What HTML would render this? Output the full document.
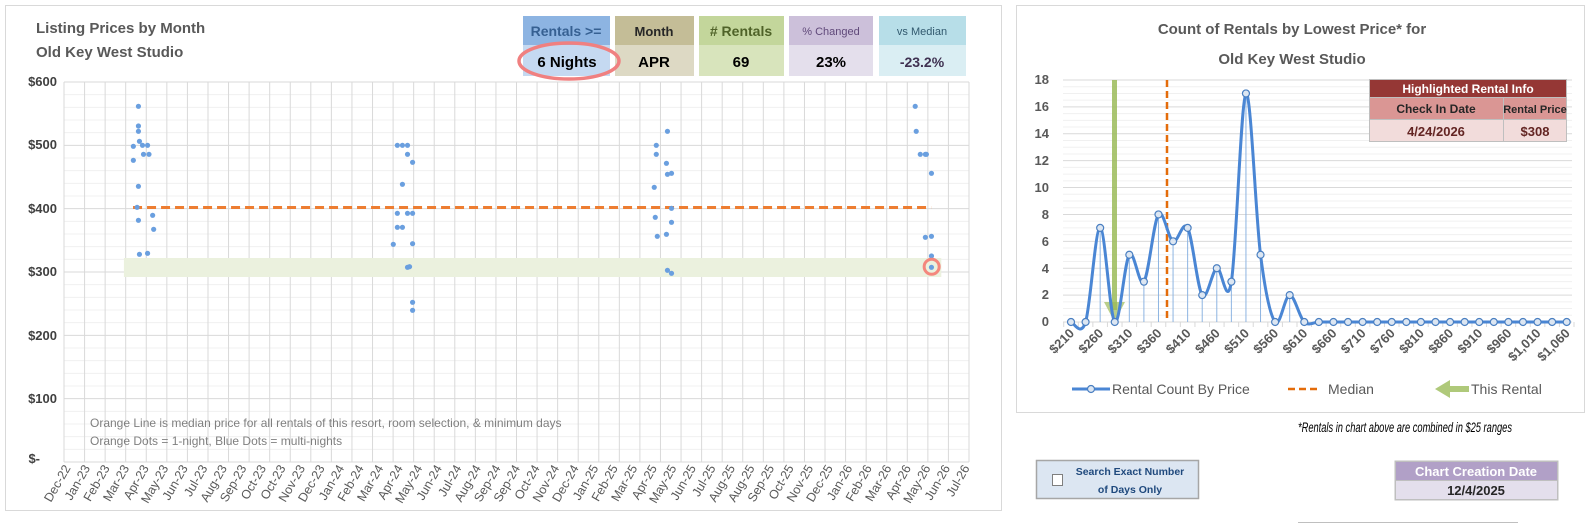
<!DOCTYPE html>
<html><head><meta charset="utf-8"><style>
body{margin:0;background:#fff;width:1587px;height:524px;overflow:hidden;font-family:"Liberation Sans",sans-serif;}
svg{position:absolute;left:0;top:0}
</style></head><body>
<svg width="1587" height="524" viewBox="0 0 1587 524" font-family="Liberation Sans, sans-serif">
<!-- panels -->
<rect x="5.5" y="5.5" width="996" height="505" fill="#fff" stroke="#d9d9d9"/>
<rect x="1016.5" y="5.5" width="568" height="407" fill="#fff" stroke="#d9d9d9"/>
<line x1="1298" y1="522.5" x2="1518" y2="522.5" stroke="#bfbfbf"/>

<!-- left title -->
<text x="36" y="33" font-size="15" font-weight="bold" fill="#595959">Listing Prices by Month</text>
<text x="36" y="57" font-size="15" font-weight="bold" fill="#595959">Old Key West Studio</text>

<!-- header boxes -->
<rect x="523" y="16" width="87" height="29" fill="#8db4e2"/>
<rect x="523" y="45" width="87" height="31" fill="#c5d9f1"/>
<rect x="615" y="16" width="79" height="29" fill="#c4bd97"/>
<rect x="615" y="45" width="79" height="31" fill="#ddd9c4"/>
<rect x="699" y="16" width="85" height="29" fill="#c3d69b"/>
<rect x="699" y="45" width="85" height="31" fill="#d8e4bc"/>
<rect x="789" y="16" width="84" height="29" fill="#ccc0da"/>
<rect x="789" y="45" width="84" height="31" fill="#e4dfec"/>
<rect x="879" y="16" width="87" height="29" fill="#b7dee8"/>
<rect x="879" y="45" width="87" height="31" fill="#daeef3"/>
<g font-weight="bold" text-anchor="middle">
<text x="566" y="36" font-size="14" fill="#366092">Rentals &gt;=</text>
<text x="654" y="36" font-size="13" fill="#262626">Month</text>
<text x="741" y="36" font-size="14" fill="#4f6228">#&#160;Rentals</text>
<text x="831" y="35" font-size="11" fill="#60497a" font-weight="normal">% Changed</text>
<text x="922" y="35" font-size="11" fill="#31596e" font-weight="normal">vs Median</text>
<text x="567" y="67" font-size="15" fill="#000">6 Nights</text>
<text x="654" y="67" font-size="15" fill="#000">APR</text>
<text x="741" y="67" font-size="15" fill="#000">69</text>
<text x="831" y="67" font-size="15" fill="#000">23%</text>
<text x="922" y="67" font-size="14" fill="#3f3151">-23.2%</text>
</g>
<ellipse cx="569" cy="61" rx="50" ry="18" fill="none" stroke="#f08080" stroke-width="3.5"/>

<!-- left plot -->
<g id="lgrid"></g>
<g id="lover"></g>
<g id="ldots" fill="#6a9fdf"></g>
<g font-size="13" font-weight="bold" fill="#404040" text-anchor="end">
<text x="57" y="86">$600</text><text x="57" y="149">$500</text><text x="57" y="213">$400</text>
<text x="57" y="276">$300</text><text x="57" y="340">$200</text><text x="57" y="403">$100</text>
<text x="40" y="463">$-</text>
</g>
<g font-size="12" fill="#7f7f7f">
<text x="90" y="427">Orange Line is median price for all rentals of this resort, room selection, &amp; minimum days</text>
<text x="90" y="445">Orange Dots = 1-night, Blue Dots = multi-nights</text>
</g>
<g id="lxl" font-size="12.5" fill="#595959" text-anchor="end">
<text>Dec-22</text><text>Jan-23</text><text>Feb-23</text><text>Mar-23</text><text>Apr-23</text><text>May-23</text><text>Jun-23</text><text>Jul-23</text><text>Aug-23</text><text>Sep-23</text><text>Oct-23</text><text>Oct-23</text><text>Nov-23</text><text>Dec-23</text><text>Jan-24</text><text>Feb-24</text><text>Mar-24</text><text>Apr-24</text><text>May-24</text><text>Jun-24</text><text>Jul-24</text><text>Aug-24</text><text>Sep-24</text><text>Sep-24</text><text>Oct-24</text><text>Nov-24</text><text>Dec-24</text><text>Jan-25</text><text>Feb-25</text><text>Mar-25</text><text>Apr-25</text><text>May-25</text><text>Jun-25</text><text>Jul-25</text><text>Aug-25</text><text>Aug-25</text><text>Sep-25</text><text>Oct-25</text><text>Nov-25</text><text>Dec-25</text><text>Jan-26</text><text>Feb-26</text><text>Mar-26</text><text>Apr-26</text><text>May-26</text><text>Jun-26</text><text>Jul-26</text>
</g>

<!-- right chart -->
<text x="1292" y="34" font-size="15" font-weight="bold" fill="#595959" text-anchor="middle">Count of Rentals by Lowest Price* for</text>
<text x="1292" y="64" font-size="15" font-weight="bold" fill="#595959" text-anchor="middle">Old Key West Studio</text>
<g id="rgrid"></g>
<g font-size="13" font-weight="bold" fill="#595959" text-anchor="end">
<text x="1049" y="84">18</text><text x="1049" y="111">16</text><text x="1049" y="138">14</text><text x="1049" y="165">12</text><text x="1049" y="192">10</text><text x="1049" y="219">8</text><text x="1049" y="246">6</text><text x="1049" y="273">4</text><text x="1049" y="299">2</text><text x="1049" y="326">0</text>
</g>
<rect x="1112" y="80" width="5" height="230" fill="#9bbb59" opacity="0.85"/>
<polygon points="1104,302 1125,302 1114.5,322" fill="#9bbb59" opacity="0.7"/>
<line x1="1167" y1="80" x2="1167" y2="322" stroke="#e46c0a" stroke-width="2.5" stroke-dasharray="7,4"/>
<g id="rser"></g>
<g id="rxl" font-size="13" font-weight="bold" fill="#595959" text-anchor="end">
<text>$210</text><text>$260</text><text>$310</text><text>$360</text><text>$410</text><text>$460</text><text>$510</text><text>$560</text><text>$610</text><text>$660</text><text>$710</text><text>$760</text><text>$810</text><text>$860</text><text>$910</text><text>$960</text><text>$1,010</text><text>$1,060</text>
</g>
<!-- highlighted table -->
<rect x="1369" y="79" width="198" height="63" fill="#bfbfbf"/>
<rect x="1370" y="80" width="196" height="17" fill="#953735"/>
<rect x="1370" y="98" width="133" height="21" fill="#da9694"/>
<rect x="1504" y="98" width="62" height="21" fill="#da9694"/>
<rect x="1370" y="120" width="133" height="21" fill="#f2dcdb"/>
<rect x="1504" y="120" width="62" height="21" fill="#f2dcdb"/>
<g font-weight="bold" text-anchor="middle">
<text x="1468" y="93" font-size="12" fill="#fff">Highlighted Rental Info</text>
<text x="1436" y="113" font-size="12" fill="#262626">Check In Date</text>
<text x="1535" y="113" font-size="11" fill="#262626">Rental Price</text>
<text x="1436" y="136" font-size="13" fill="#632523">4/24/2026</text>
<text x="1535" y="136" font-size="13" fill="#632523">$308</text>
</g>
<!-- legend -->
<line x1="1072" y1="389" x2="1110" y2="389" stroke="#4a86d4" stroke-width="3"/>
<circle cx="1091" cy="389" r="3.5" fill="#dce6f2" stroke="#4a7fc1" stroke-width="1.2"/>
<text x="1112" y="394" font-size="14" fill="#595959">Rental Count By Price</text>
<line x1="1288" y1="389" x2="1318" y2="389" stroke="#e46c0a" stroke-width="2.5" stroke-dasharray="7,4"/>
<text x="1328" y="394" font-size="14" fill="#595959">Median</text>
<polygon points="1435,389 1450,380 1450,386 1469,386 1469,392 1450,392 1450,398" fill="#9bbb59" opacity="0.8"/>
<text x="1471" y="394" font-size="14" fill="#595959">This Rental</text>

<text x="1405" y="432" font-size="13.5" font-style="italic" fill="#000" text-anchor="middle" textLength="214" lengthAdjust="spacingAndGlyphs">*Rentals in chart above are combined in $25 ranges</text>

<!-- checkbox -->
<rect x="1036.5" y="460.5" width="162" height="38" fill="#dce6f2" stroke="#a6a6a6" stroke-width="1.5"/>
<rect x="1052.5" y="474.5" width="10" height="11" fill="#fff" stroke="#7f7f7f"/>
<text x="1130" y="475" font-size="10.5" font-weight="bold" fill="#1f497d" text-anchor="middle">Search Exact Number</text>
<text x="1130" y="493" font-size="10.5" font-weight="bold" fill="#1f497d" text-anchor="middle">of Days Only</text>
<!-- creation date -->
<rect x="1394.5" y="460.5" width="164" height="40" fill="#bfbfbf"/>
<rect x="1396" y="462" width="161" height="18" fill="#b1a0c7"/>
<rect x="1396" y="481" width="161" height="18" fill="#e4dfec"/>
<text x="1476" y="476" font-size="13" font-weight="bold" fill="#fff" text-anchor="middle">Chart Creation Date</text>
<text x="1476" y="495" font-size="13" font-weight="bold" fill="#262626" text-anchor="middle">12/4/2025</text>
</svg>
<script>
var NS="http://www.w3.org/2000/svg";
function el(p,t,a){var e=document.createElementNS(NS,t);for(var k in a)e.setAttribute(k,a[k]);p.appendChild(e);return e;}
function fx(x){return 64+(x-64)*1.0154;}
var g=document.getElementById('lgrid');
var L=64,R=969,T=82,B=462,py=(B-T)/600;
for(var v=0;v<=600;v+=20){var y=B-v*py;el(g,'line',{x1:L,x2:R,y1:y,y2:y,stroke:v%100==0?'#d9d9d9':'#f0f0f0','stroke-width':1});}
var sp=(R-L)/44;
for(var i=0;i<=44;i++){var x=L+i*sp;el(g,'line',{x1:x,x2:x,y1:T,y2:B,stroke:'#d9d9d9'});}
var lo=document.getElementById('lover');
el(lo,'rect',{x:fx(123),y:258,width:fx(928)-fx(123),height:19,fill:'#ebf1de'});
el(lo,'line',{x1:fx(132),x2:fx(918),y1:207.5,y2:207.5,stroke:'#ed7d31','stroke-width':3,'stroke-dasharray':'9,5'});
var ls=document.getElementById('lxl').children;
for(var i=0;i<ls.length;i++){var x=71+i*(970-71)/46;ls[i].setAttribute('transform','translate('+x+',468) rotate(-60)');}
var d=[[137.3,106.3],[137.3,126],[137.3,131.3],[138.3,141.3],[132.3,146.3],[141.3,145.3],[146.3,145.3],[142.3,154.3],[147.7,154.3],[132.3,160.3],[137.3,186.3],[136,207.3],[137.3,220.3],[151.3,215.3],[152.3,229.3],[138.3,254.3],[146.3,253.3],
[392.3,145.3],[397.3,145.3],[402.3,145.3],[402.3,154.3],[407.3,162.3],[397.3,184.3],[392.3,213.3],[402.3,213.3],[407.3,213.3],[392.3,227.3],[397.3,227.3],[388.3,244.3],[407.3,243.7],[402.3,267.3],[404.3,266.7],[407.3,302.3],[407.3,310.3],
[658.3,131.3],[647.3,145.3],[647.3,154.3],[657.3,163.3],[658.3,174.3],[662.3,173.3],[645.3,187.3],[662.3,208.3],[646.3,217.3],[662.3,222.3],[648.3,236.3],[657.3,234.3],[658.3,270.3],[662.3,273.3],
[902.3,106.3],[903.3,131.3],[907.3,154.3],[912.3,154.3],[913.3,154.3],[918.3,173.3],[912.3,237.3],[918.3,236.3],[918.3,256],[918.3,267.3]];
var dg=document.getElementById('ldots');
d.forEach(function(p){el(dg,'circle',{cx:fx(p[0]),cy:p[1],r:2.6});});
el(dg,'circle',{cx:fx(918.5),cy:266.8,r:7.5,fill:'none',stroke:'#f4877d','stroke-width':3});
var rg=document.getElementById('rgrid');
var RL=1063,RR=1572,RT=80,RB=322,ry=(RB-RT)/18;
for(var v=0;v<=18;v+=0.5){var y=RB-v*ry;el(rg,'line',{x1:RL,x2:RR,y1:y,y2:y,stroke:v%2==0?'#d9d9d9':'#f0f0f0'});}
var vals=[0,0,7,0,5,3,8,6,7,2,4,3,17,5,0,2,0];while(vals.length<35)vals.push(0);
var X0=1071,DX=(1566.7-1071)/34;
var pts=vals.map(function(v,i){return [X0+i*DX,RB-v*ry];});
for(var i=0;i<=35;i++){var x=X0-DX/2+i*DX;el(rg,'line',{x1:x,x2:x,y1:RB,y2:RB+5,stroke:'#d9d9d9'});}
var rs=document.getElementById('rser');
pts.forEach(function(p){if(p[1]<RB)el(rs,'line',{x1:p[0],x2:p[0],y1:p[1],y2:RB,stroke:'#8db4e2','stroke-width':1});});
var dstr='M'+pts[0][0]+','+pts[0][1];
for(var i=0;i<pts.length-1;i++){var p0=pts[i-1]||pts[i],p1=pts[i],p2=pts[i+1],p3=pts[i+2]||p2;var t=1/6;
dstr+=' C'+(p1[0]+(p2[0]-p0[0])*t)+','+(p1[1]+(p2[1]-p0[1])*t)+' '+(p2[0]-(p3[0]-p1[0])*t)+','+(p2[1]-(p3[1]-p1[1])*t)+' '+p2[0]+','+p2[1];}
el(rs,'path',{d:dstr,fill:'none',stroke:'#4a86d4','stroke-width':3});
pts.forEach(function(p){el(rs,'circle',{cx:p[0],cy:p[1],r:3.5,fill:'#dce6f2',stroke:'#4a7fc1','stroke-width':1.2});});
var rl=document.getElementById('rxl').children;
for(var i=0;i<rl.length;i++){var x=X0+4+i*2*DX;rl[i].setAttribute('transform','translate('+x+',334) rotate(-45)');}
</script>
</body></html>
